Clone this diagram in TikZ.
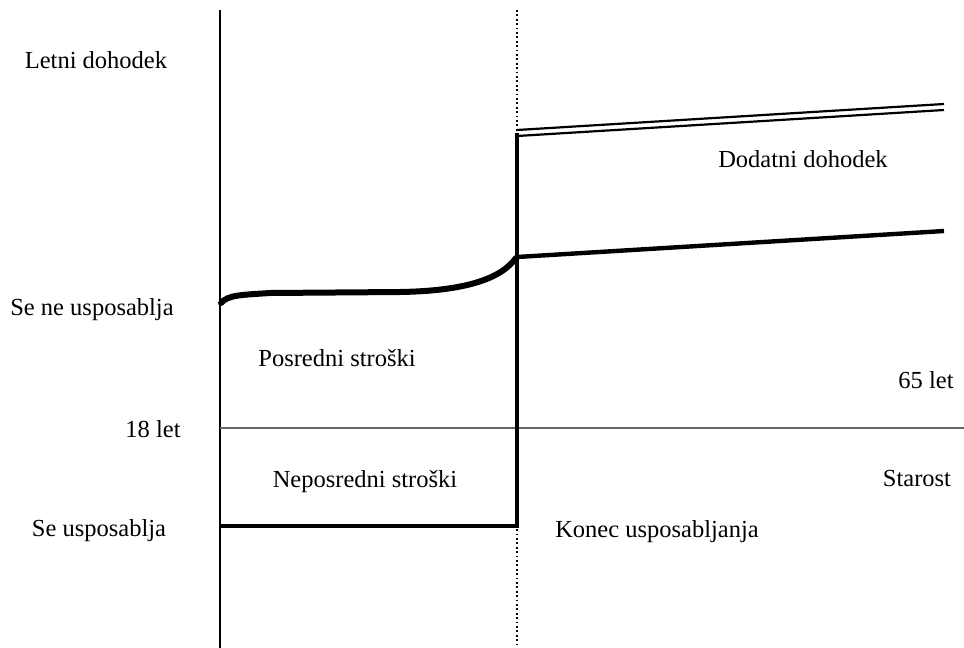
\documentclass[tikz,border=0pt]{standalone}
\usepackage{fontspec}
\setmainfont{Liberation Serif}
\begin{document}
\begin{tikzpicture}[x=1pt,y=-1pt,
  lbl/.style={anchor=base,inner sep=0pt,font=\fontsize{24.5}{26}\selectfont},
  axisline/.style={line width=2pt},
  thinline/.style={line width=1.2pt,black!60},
  thickline/.style={line width=3.6pt},
  curveline/.style={line width=6pt,line cap=round},
  dotline/.style={line width=1.8pt,dash pattern=on 1.8pt off 2.6pt}]
\useasboundingbox (0,0) rectangle (964,648);
% coordinates
\coordinate (ytop) at (220,10);
\coordinate (ybot) at (220,648);
\coordinate (dtop) at (517,10);
\coordinate (dbot) at (517,648);
\coordinate (hl) at (220,428);
\coordinate (hr) at (964,428);
\coordinate (b1) at (220,526);
\coordinate (b2) at (517,526);
\coordinate (b3) at (517,133);
\coordinate (u1) at (517,130);
\coordinate (u2) at (944,104);
\coordinate (v1) at (517,136);
\coordinate (v2) at (944,110);
\coordinate (m1) at (517,257);
\coordinate (m2) at (944,231);
\coordinate (c0) at (221,303);
\coordinate (c1) at (270,293);
\coordinate (c2) at (400,292);
\coordinate (c3) at (516,258);
% axes
\draw[axisline] (ytop) -- (ybot);
\draw[dotline] (dtop) -- (dbot);
\draw[thinline] (hl) -- (hr);
% training path
\draw[thickline] (b1) -- (b2) -- (b3);
% upper double line
\draw[line width=2.2pt] (u1) -- (u2);
\draw[line width=2.2pt] (v1) -- (v2);
% no-training income
\draw[line width=4.4pt] (m1) -- (m2);
\draw[curveline] (c0) .. controls (228,295) and (240,295) .. (c1)
  -- (c2) .. controls (462,291) and (500,280) .. (c3);
% labels
\node[lbl] (t1) at (96,68) {Letni dohodek};
\node[lbl] (t2) at (92,315) {Se ne usposablja};
\node[lbl] (t3) at (337,366) {Posredni stroški};
\node[lbl] (t4) at (926,388) {65 let};
\node[lbl] (t5) at (153,437) {18 let};
\node[lbl] (t6) at (365,487) {Neposredni stroški};
\node[lbl] (t7) at (917,486) {Starost};
\node[lbl] (t8) at (99,536) {Se usposablja};
\node[lbl] (t9) at (657,537) {Konec usposabljanja};
\node[lbl] (t10) at (803,167) {Dodatni dohodek};
\end{tikzpicture}
\end{document}
